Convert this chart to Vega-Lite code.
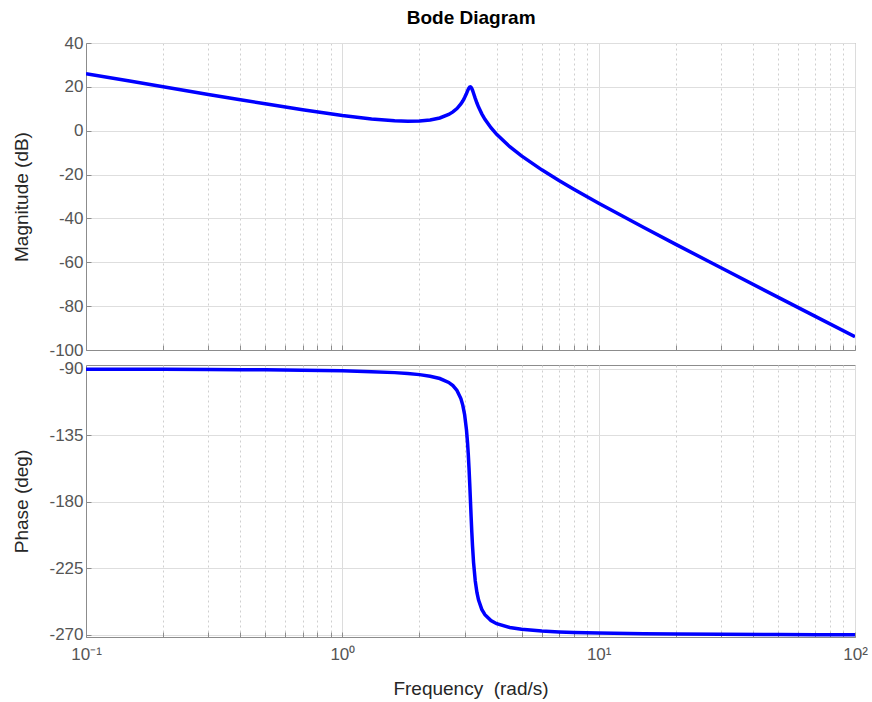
{
  "$schema": "https://vega.github.io/schema/vega-lite/v6.json",
  "background": "white",
  "padding": {"left": 12, "top": 8, "right": 10, "bottom": 2},
  "title": {"text": "Bode Diagram", "font": "Liberation Sans", "fontSize": 19, "fontWeight": "bold", "color": "#000000", "anchor": "middle", "offset": 6, "dx": 31},
  "datasets": {
    "bode": [
      {"w": 0.1, "mag": 26.029, "phase": -90.11},
      {"w": 0.15, "mag": 22.518, "phase": -90.17},
      {"w": 0.2, "mag": 20.035, "phase": -90.23},
      {"w": 0.3, "mag": 16.557, "phase": -90.35},
      {"w": 0.4, "mag": 14.12, "phase": -90.47},
      {"w": 0.5, "mag": 12.261, "phase": -90.59},
      {"w": 0.7, "mag": 9.554, "phase": -90.84},
      {"w": 1.0, "mag": 6.934, "phase": -91.27},
      {"w": 1.3, "mag": 5.346, "phase": -91.79},
      {"w": 1.6, "mag": 4.5, "phase": -92.46},
      {"w": 1.8, "mag": 4.305, "phase": -93.05},
      {"w": 2.0, "mag": 4.418, "phase": -93.81},
      {"w": 2.2, "mag": 4.889, "phase": -94.87},
      {"w": 2.4, "mag": 5.814, "phase": -96.46},
      {"w": 2.6, "mag": 7.401, "phase": -99.12},
      {"w": 2.7, "mag": 8.566, "phase": -101.27},
      {"w": 2.8, "mag": 10.107, "phase": -104.53},
      {"w": 2.9, "mag": 12.202, "phase": -110.04},
      {"w": 2.95, "mag": 13.547, "phase": -114.45},
      {"w": 3.0, "mag": 15.143, "phase": -120.96},
      {"w": 3.05, "mag": 16.997, "phase": -131.17},
      {"w": 3.08, "mag": 18.166, "phase": -140.18},
      {"w": 3.1, "mag": 18.898, "phase": -147.83},
      {"w": 3.12, "mag": 19.512, "phase": -156.94},
      {"w": 3.14, "mag": 19.911, "phase": -167.4},
      {"w": 3.1623, "mag": 20.0, "phase": -180.0},
      {"w": 3.18, "mag": 19.769, "phase": -190.02},
      {"w": 3.2, "mag": 19.223, "phase": -200.56},
      {"w": 3.22, "mag": 18.457, "phase": -209.77},
      {"w": 3.25, "mag": 17.097, "phase": -220.87},
      {"w": 3.3, "mag": 14.76, "phase": -233.44},
      {"w": 3.35, "mag": 12.634, "phase": -241.27},
      {"w": 3.4, "mag": 10.773, "phase": -246.45},
      {"w": 3.5, "mag": 7.695, "phase": -252.72},
      {"w": 3.6, "mag": 5.22, "phase": -256.33},
      {"w": 3.8, "mag": 1.352, "phase": -260.29},
      {"w": 4.0, "mag": -1.66, "phase": -262.41},
      {"w": 4.5, "mag": -7.291, "phase": -264.98},
      {"w": 5.0, "mag": -11.5, "phase": -266.19},
      {"w": 6.0, "mag": -17.851, "phase": -267.36},
      {"w": 7.0, "mag": -22.708, "phase": -267.94},
      {"w": 8.0, "mag": -26.693, "phase": -268.3},
      {"w": 10.0, "mag": -33.066, "phase": -268.73},
      {"w": 15.0, "mag": -44.151, "phase": -269.2},
      {"w": 20.0, "mag": -51.822, "phase": -269.41},
      {"w": 30.0, "mag": -62.51, "phase": -269.61},
      {"w": 50.0, "mag": -75.882, "phase": -269.77},
      {"w": 70.0, "mag": -84.667, "phase": -269.84},
      {"w": 100.0, "mag": -93.97, "phase": -269.89}
    ]
  },
  "config": {
    "view": {"stroke": "#8c8c8c", "strokeWidth": 1},
    "font": "Liberation Sans",
    "axis": {
      "labelFont": "Liberation Sans",
      "labelFontSize": 17,
      "labelColor": "#555555",
      "titleFont": "Liberation Sans",
      "titleFontSize": 19,
      "titleFontWeight": "normal",
      "titleColor": "#262626",
      "domainColor": "#8c8c8c",
      "tickColor": "#8c8c8c",
      "gridColor": "#dedede",
      "gridWidth": 1
    }
  },
  "spacing": 0,
  "vconcat": [
    {
      "width": 769,
      "height": 307,
      "data": {"name": "bode"},
      "mark": {"type": "line", "color": "#0000ff", "strokeWidth": 3.5, "clip": true},
      "encoding": {
        "x": {
          "field": "w", "type": "quantitative",
          "scale": {"type": "log", "domain": [0.1, 100], "nice": false},
          "axis": {
            "title": null,
            "labels": false,
            "values": [0.1, 0.2, 0.3, 0.4, 0.5, 0.6, 0.7, 0.8, 0.9, 1, 2, 3, 4, 5, 6, 7, 8, 9, 10, 20, 30, 40, 50, 60, 70, 80, 90, 100],
            "tickSize": -5,
            "gridDash": {"condition": {"test": "datum.value == 0.1 || datum.value == 1 || datum.value == 10 || datum.value == 100", "value": []}, "value": [2, 3]},
            "gridColor": {"condition": {"test": "datum.value == 0.1 || datum.value == 1 || datum.value == 10 || datum.value == 100", "value": "#dcdcdc"}, "value": "#cfcfcf"}
          }
        },
        "y": {
          "field": "mag", "type": "quantitative",
          "scale": {"domain": [-100, 40], "nice": false, "zero": false},
          "axis": {
            "title": "Magnitude (dB)",
            "values": [-100, -80, -60, -40, -20, 0, 20, 40],
            "labelExpr": "replace(datum.label, '\u2212', '-')",
            "tickSize": -5,
            "labelPadding": 8,
            "titlePadding": 17
          }
        }
      }
    },
    {
      "width": 769,
      "height": 272,
      "data": {"name": "bode"},
      "mark": {"type": "line", "color": "#0000ff", "strokeWidth": 3.5, "clip": true},
      "encoding": {
        "x": {
          "field": "w", "type": "quantitative",
          "scale": {"type": "log", "domain": [0.1, 100], "nice": false},
          "axis": {
            "title": "Frequency\u00a0\u00a0(rad/s)",
            "values": [0.1, 0.2, 0.3, 0.4, 0.5, 0.6, 0.7, 0.8, 0.9, 1, 2, 3, 4, 5, 6, 7, 8, 9, 10, 20, 30, 40, 50, 60, 70, 80, 90, 100],
            "labelExpr": "datum.value == 0.1 ? '10⁻¹' : datum.value == 1 ? '10⁰' : datum.value == 10 ? '10¹' : datum.value == 100 ? '10²' : ''",
            "labelOverlap": false,
            "labelFlush": false,
            "tickSize": -5,
            "labelPadding": 14,
            "titlePadding": 17,
            "gridDash": {"condition": {"test": "datum.value == 0.1 || datum.value == 1 || datum.value == 10 || datum.value == 100", "value": []}, "value": [2, 3]},
            "gridColor": {"condition": {"test": "datum.value == 0.1 || datum.value == 1 || datum.value == 10 || datum.value == 100", "value": "#dcdcdc"}, "value": "#cfcfcf"}
          }
        },
        "y": {
          "field": "phase", "type": "quantitative",
          "scale": {"domain": [-271.4, -87.3], "nice": false, "zero": false},
          "axis": {
            "title": "Phase (deg)",
            "values": [-270, -225, -180, -135, -90],
            "labelExpr": "replace(datum.label, '\u2212', '-')",
            "tickSize": -5,
            "labelPadding": 8,
            "titlePadding": 17
          }
        }
      }
    }
  ]
}
